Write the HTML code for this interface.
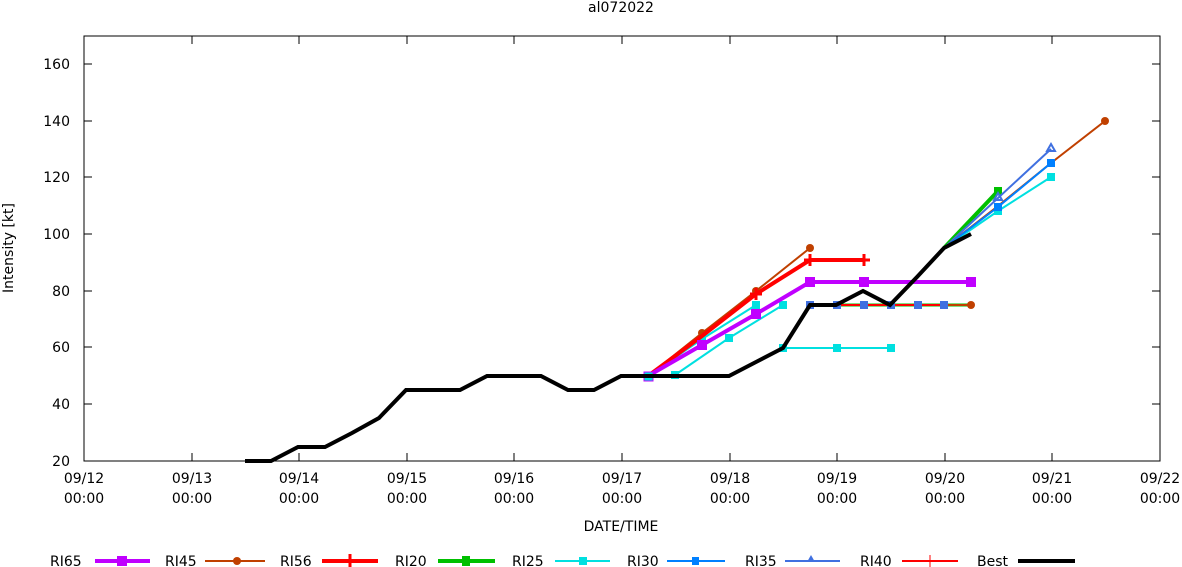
<!DOCTYPE html><html><head><style>body{margin:0;background:#fff}svg{display:block;font-family:"DejaVu Sans","Liberation Sans",sans-serif;font-size:14px}</style></head><body>
<svg width="1182" height="567" viewBox="0 0 1182 567">
<text x="621" y="12" text-anchor="middle">al072022</text>
<rect x="84" y="36" width="1076" height="425" fill="none" stroke="#000" stroke-width="1"/>
<g stroke="#000">
<line x1="84" y1="64" x2="92" y2="64"/><line x1="84" y1="121" x2="92" y2="121"/><line x1="84" y1="177" x2="92" y2="177"/><line x1="84" y1="234" x2="92" y2="234"/><line x1="84" y1="291" x2="92" y2="291"/><line x1="84" y1="347" x2="92" y2="347"/><line x1="84" y1="404" x2="92" y2="404"/>
<line x1="1160" y1="64" x2="1152" y2="64"/><line x1="1160" y1="121" x2="1152" y2="121"/><line x1="1160" y1="177" x2="1152" y2="177"/><line x1="1160" y1="234" x2="1152" y2="234"/><line x1="1160" y1="291" x2="1152" y2="291"/><line x1="1160" y1="347" x2="1152" y2="347"/><line x1="1160" y1="404" x2="1152" y2="404"/>
<line x1="192" y1="461" x2="192" y2="453"/><line x1="299" y1="461" x2="299" y2="453"/><line x1="407" y1="461" x2="407" y2="453"/><line x1="514" y1="461" x2="514" y2="453"/><line x1="622" y1="461" x2="622" y2="453"/><line x1="730" y1="461" x2="730" y2="453"/><line x1="837" y1="461" x2="837" y2="453"/><line x1="945" y1="461" x2="945" y2="453"/><line x1="1052" y1="461" x2="1052" y2="453"/>
<line x1="192" y1="36" x2="192" y2="44"/><line x1="299" y1="36" x2="299" y2="44"/><line x1="407" y1="36" x2="407" y2="44"/><line x1="514" y1="36" x2="514" y2="44"/><line x1="622" y1="36" x2="622" y2="44"/><line x1="730" y1="36" x2="730" y2="44"/><line x1="837" y1="36" x2="837" y2="44"/><line x1="945" y1="36" x2="945" y2="44"/><line x1="1052" y1="36" x2="1052" y2="44"/>
</g>
<g text-anchor="end">
<text x="70" y="69">160</text><text x="70" y="126">140</text><text x="70" y="182">120</text><text x="70" y="239">100</text><text x="70" y="296">80</text><text x="70" y="352">60</text><text x="70" y="409">40</text><text x="70" y="466">20</text>
</g>
<g text-anchor="middle">
<text x="84" y="483">09/12</text><text x="84" y="503">00:00</text>
<text x="192" y="483">09/13</text><text x="192" y="503">00:00</text>
<text x="299" y="483">09/14</text><text x="299" y="503">00:00</text>
<text x="407" y="483">09/15</text><text x="407" y="503">00:00</text>
<text x="514" y="483">09/16</text><text x="514" y="503">00:00</text>
<text x="622" y="483">09/17</text><text x="622" y="503">00:00</text>
<text x="730" y="483">09/18</text><text x="730" y="503">00:00</text>
<text x="837" y="483">09/19</text><text x="837" y="503">00:00</text>
<text x="945" y="483">09/20</text><text x="945" y="503">00:00</text>
<text x="1052" y="483">09/21</text><text x="1052" y="503">00:00</text>
<text x="1160" y="483">09/22</text><text x="1160" y="503">00:00</text>
<text x="621" y="531">DATE/TIME</text>
<text transform="translate(13,248) rotate(-90)">Intensity [kt]</text>
</g>
<polyline points="810,305 837,305 864,305 891,305 918,305 944,305 971,305" fill="none" stroke="#00c000" stroke-width="3"/>
<polyline points="810,305 837,305 864,305 891,305 918,305 944,305 971,305" fill="none" stroke="#c04000" stroke-width="2"/>
<polyline points="810,305 837,305 864,305 891,305 918,305 944,305" fill="none" stroke="#ff0000" stroke-width="2"/>
<g fill="#4070e0"><rect x="806" y="301" width="8" height="8"/><rect x="833" y="301" width="8" height="8"/><rect x="860" y="301" width="8" height="8"/><rect x="887" y="301" width="8" height="8"/><rect x="914" y="301" width="8" height="8"/><rect x="940" y="301" width="8" height="8"/></g>
<circle cx="971" cy="305" r="4" fill="#c04000"/>
<g fill="none" stroke="#00e0e0" stroke-width="2">
<polyline points="648,376 702,339 756,305"/>
<polyline points="675,375 729,338 783,305"/>
<polyline points="783,348 837,348 891,348"/>
<polyline points="944,248 998,211 1051,177"/>
</g>
<g fill="#00e0e0"><rect x="698" y="335" width="8" height="8"/><rect x="752" y="301" width="8" height="8"/><rect x="671" y="371" width="8" height="8"/><rect x="725" y="334" width="8" height="8"/><rect x="779" y="301" width="8" height="8"/><rect x="779" y="344" width="8" height="8"/><rect x="833" y="344" width="8" height="8"/><rect x="887" y="344" width="8" height="8"/><rect x="994" y="207" width="8" height="8"/><rect x="1047" y="173" width="8" height="8"/></g>
<polyline points="944,248 998,191" fill="none" stroke="#00c000" stroke-width="4"/>
<rect x="994" y="187" width="8" height="8" fill="#00c000"/>
<polyline points="944,248 998,198 1051,149" fill="none" stroke="#4070e0" stroke-width="2"/>
<polyline points="944,248 998,206 1051,163 1105,121" fill="none" stroke="#c04000" stroke-width="2"/>
<polyline points="944,248 998,207 1051,163" fill="none" stroke="#0080ff" stroke-width="2"/>
<circle cx="1105" cy="121" r="4" fill="#c04000"/>
<rect x="1047" y="159" width="8" height="8" fill="#0080ff"/><rect x="994" y="203" width="8" height="8" fill="#0080ff"/>
<path d="M1051,144 l4,7 h-8z" fill="none" stroke="#4070e0" stroke-width="2"/>
<path d="M998,193 l4,7 h-8z" fill="none" stroke="#4070e0" stroke-width="2"/>
<polyline points="648,376 702,333 756,291 810,248" fill="none" stroke="#c04000" stroke-width="2"/>
<g fill="#c04000"><circle cx="702" cy="333" r="4"/><circle cx="756" cy="291" r="4"/><circle cx="810" cy="248" r="4"/></g>
<polyline points="648,376 702,336 756,294 810,260 864,260" fill="none" stroke="#ff0000" stroke-width="4"/>
<g stroke="#ff0000" stroke-width="3"><path d="M810,254v12M804,260h12M864,254v12M858,260h12M756,288v12M750,294h12"/></g>
<polyline points="648,376 702,345 756,314 810,282 864,282 918,282 971,282" fill="none" stroke="#c000ff" stroke-width="4"/>
<g fill="#c000ff"><rect x="697" y="340" width="10" height="10"/><rect x="751" y="309" width="10" height="10"/><rect x="805" y="277" width="10" height="10"/><rect x="859" y="277" width="10" height="10"/><rect x="966" y="277" width="10" height="10"/></g>
<rect x="644" y="372" width="9" height="9" fill="#00e0e0" stroke="#c000ff"/>
<polyline points="245,461 271,461 298,447 325,447 352,433 379,418 406,390 433,390 460,390 487,376 514,376 541,376 568,390 594,390 621,376 648,376 675,376 702,376 729,376 756,362 783,348 810,305 836,305 863,291 890,305 917,277 944,248 971,234" fill="none" stroke="#000" stroke-width="4"/>
<g>
<text x="50" y="566">RI65</text><line x1="95" y1="561" x2="150" y2="561" stroke="#c000ff" stroke-width="4"/><rect x="117" y="556" width="10" height="10" fill="#c000ff"/>
<text x="165" y="566">RI45</text><line x1="205" y1="561" x2="265" y2="561" stroke="#c04000" stroke-width="2"/><circle cx="237" cy="561" r="4" fill="#c04000"/>
<text x="280" y="566">RI56</text><line x1="322" y1="561" x2="378" y2="561" stroke="#ff0000" stroke-width="4"/><path d="M350,554v14M343,561h14" stroke="#ff0000" stroke-width="3"/>
<text x="395" y="566">RI20</text><line x1="438" y1="561" x2="495" y2="561" stroke="#00c000" stroke-width="4"/><rect x="462" y="556" width="8" height="10" fill="#00c000"/>
<text x="512" y="566">RI25</text><line x1="555" y1="561" x2="610" y2="561" stroke="#00e0e0" stroke-width="2"/><rect x="579" y="557" width="8" height="8" fill="#00e0e0"/>
<text x="627" y="566">RI30</text><line x1="667" y1="561" x2="725" y2="561" stroke="#0080ff" stroke-width="2"/><rect x="692" y="557" width="7" height="8" fill="#0080ff"/>
<text x="745" y="566">RI35</text><line x1="785" y1="561" x2="840" y2="561" stroke="#4070e0" stroke-width="2"/><path d="M811,555 l4,7 h-8z" fill="#4070e0"/>
<text x="860" y="566">RI40</text><line x1="902" y1="561" x2="958" y2="561" stroke="#ff0000" stroke-width="2"/><path d="M930,555v12" stroke="#ff0000"/>
<text x="977" y="566">Best</text><line x1="1018" y1="561" x2="1075" y2="561" stroke="#000" stroke-width="4"/>
</g>
</svg>
</body></html>
